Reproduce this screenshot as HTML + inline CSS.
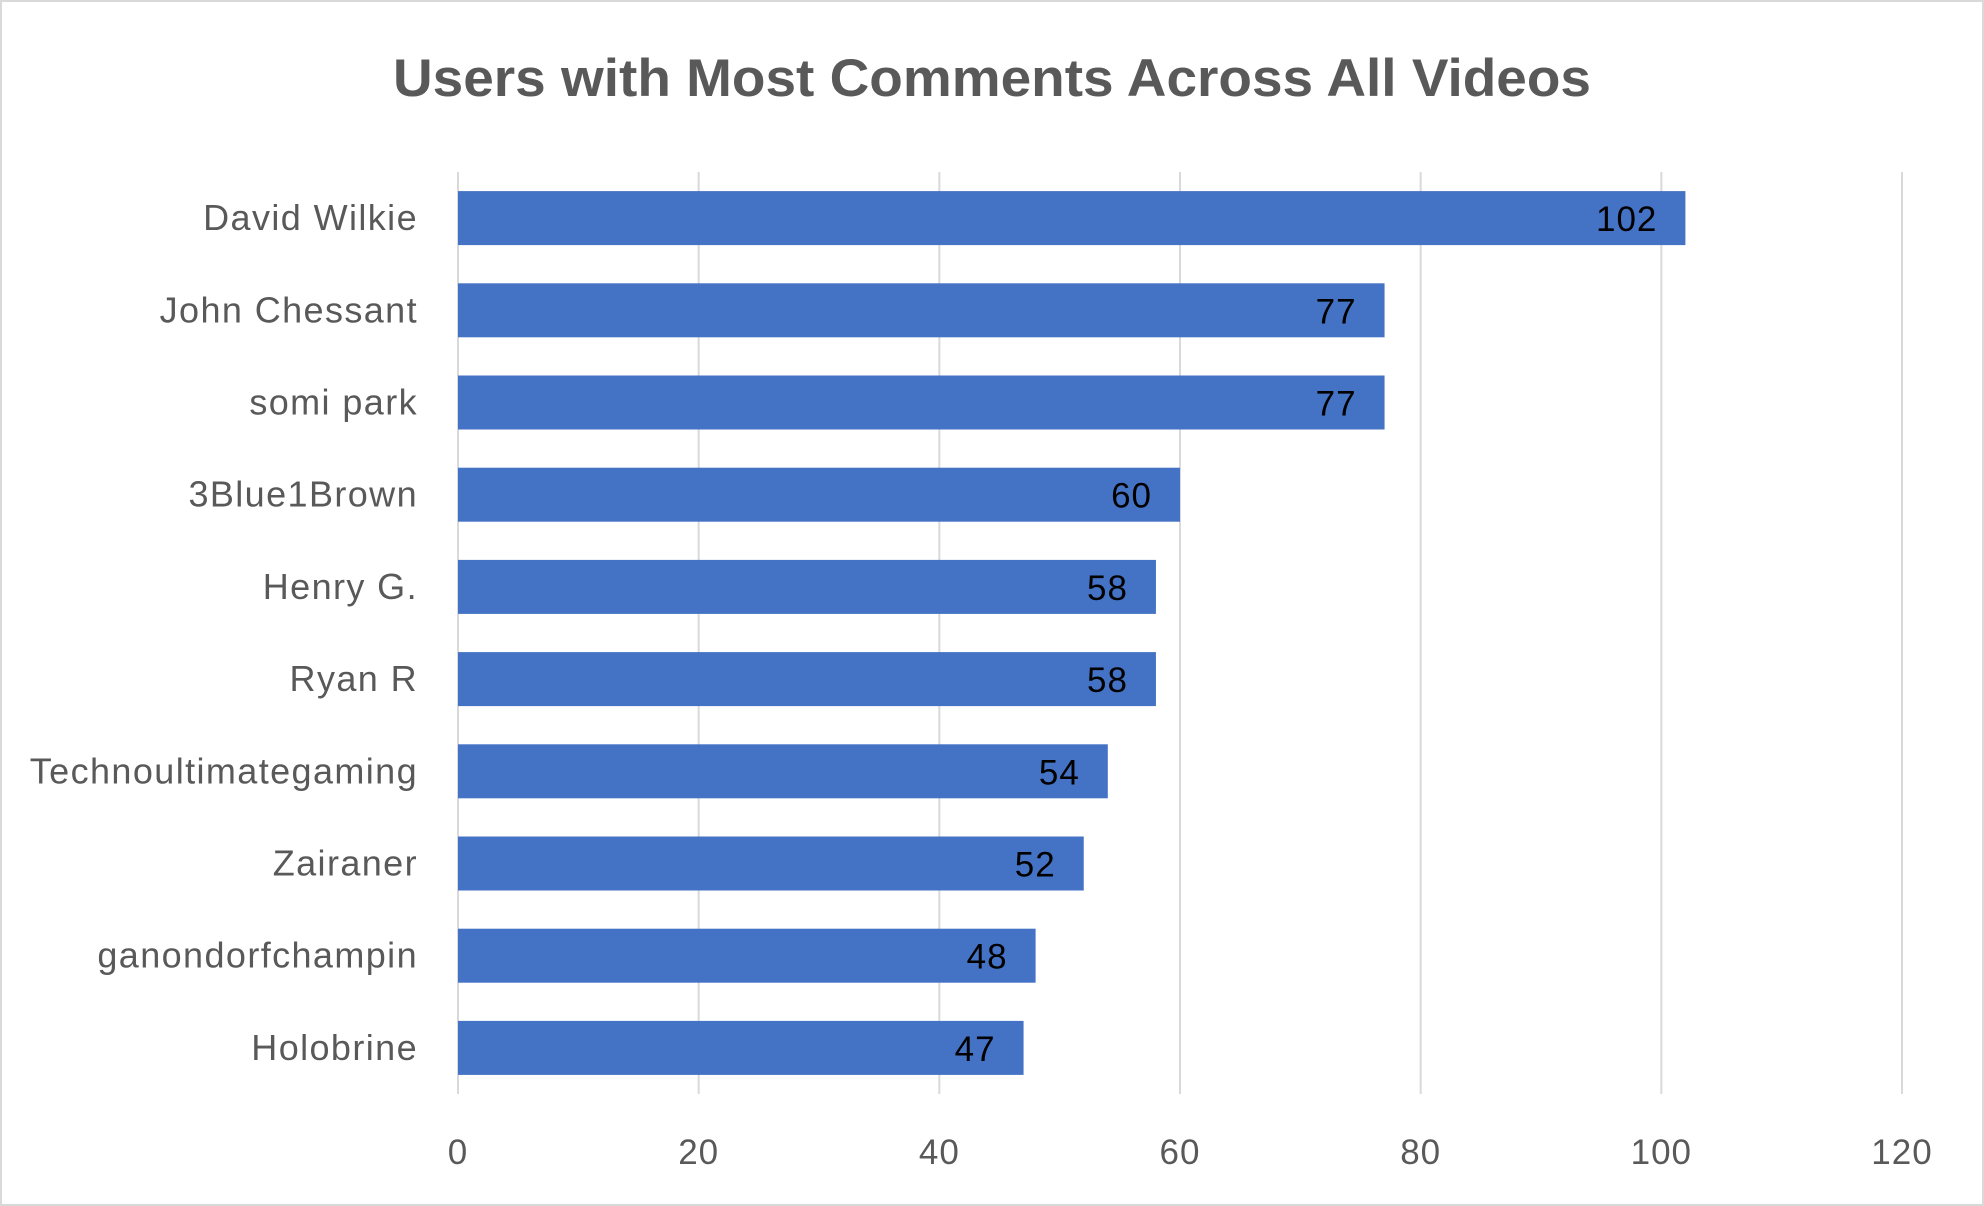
<!DOCTYPE html>
<html><head><meta charset="utf-8"><style>
html,body{margin:0;padding:0;background:#fff}
svg{display:block}
text{font-family:"Liberation Sans",sans-serif}
</style></head><body>
<svg id="chart" width="1984" height="1206" viewBox="0 0 1984 1206" xmlns="http://www.w3.org/2000/svg">
<rect x="1" y="1" width="1982" height="1204" fill="#fff" stroke="#d9d9d9" stroke-width="2"/>
<text x="992" y="96" text-anchor="middle" font-size="53" font-weight="bold" fill="#595959" textLength="1198" lengthAdjust="spacingAndGlyphs">Users with Most Comments Across All Videos</text>
<g id="grid"></g>
<g id="bars"></g>
<g id="labels"></g>
<g id="ticks"></g>
</svg>
<script>
const categories = ["David Wilkie","John Chessant","somi park","3Blue1Brown","Henry G.","Ryan R","Technoultimategaming","Zairaner","ganondorfchampin","Holobrine"];
const values = [102,77,77,60,58,58,54,52,48,47];
const tickValues = [0,20,40,60,80,100,120];
const tickLabels = ["0","20","40","60","80","100","120"];

const NS = "http://www.w3.org/2000/svg";
const x0 = 458, x1 = 1902, xMax = 120;
const plotTop = 172, plotBottom = 1094;
const band = (plotBottom - plotTop) / categories.length;
const barH = 54;
function xScale(v){ return x0 + (v / xMax) * (x1 - x0); }
function yBand(i){ return plotTop + i * band + (band - barH) / 2; }
function mk(tag, attrs, parent){ const e = document.createElementNS(NS, tag); for (const k in attrs) e.setAttribute(k, attrs[k]); parent.appendChild(e); return e; }

const grid = document.getElementById('grid');
const ticks = document.getElementById('ticks');
tickValues.forEach((t, i) => {
  const l = mk('line', {x1: xScale(t), x2: xScale(t), y1: plotTop, y2: plotBottom, stroke: '#d9d9d9', 'stroke-width': 2}, grid);
  
  
  const tx = mk('text', {x: xScale(t), y: 1164, 'text-anchor': 'middle', 'font-size': 35, 'letter-spacing': 1, fill: '#595959'}, ticks);
  tx.textContent = tickLabels[i];
  
  
});

const bars = document.getElementById('bars');
const labels = document.getElementById('labels');
categories.forEach((c, i) => {
  const y = yBand(i);
  const r = mk('rect', {x: xScale(0), y: y, width: xScale(values[i]) - xScale(0), height: barH, fill: '#4472c4'}, bars);
  
  
  const v = mk('text', {x: xScale(values[i]) - 28, y: y + barH / 2 + 13, 'text-anchor': 'end', 'font-size': 35, 'letter-spacing': 1, fill: '#000'}, bars);
  v.textContent = values[i];
  
  
  const t = mk('text', {x: 418, y: y + barH / 2 + 12, 'text-anchor': 'end', 'font-size': 36, 'letter-spacing': 1.4, fill: '#595959'}, labels);
  t.textContent = c;
  
  
});
</script>
</body></html>
